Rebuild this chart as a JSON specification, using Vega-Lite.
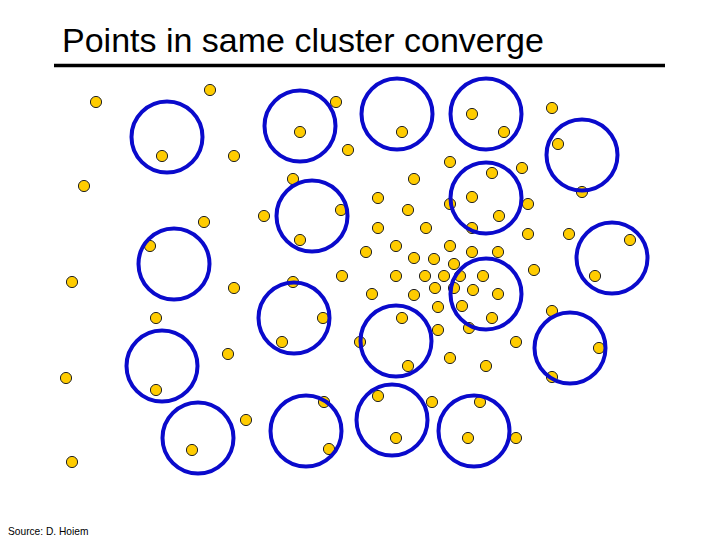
{
  "$schema": "https://vega.github.io/schema/vega-lite/v6.json",
  "autosize": {"type": "fit", "contains": "padding"},
  "width": 720,
  "height": 540,
  "padding": 0,
  "background": "white",
  "config": {"view": {"stroke": null}},
  "datasets": {
    "points": [
      {"x": 96, "y": 102}, {"x": 210, "y": 90}, {"x": 336, "y": 102}, {"x": 300, "y": 132},
      {"x": 162, "y": 156}, {"x": 234, "y": 156}, {"x": 348, "y": 150}, {"x": 293, "y": 179},
      {"x": 402, "y": 132}, {"x": 472, "y": 114}, {"x": 504, "y": 132}, {"x": 552, "y": 108},
      {"x": 558, "y": 144}, {"x": 450, "y": 162}, {"x": 492, "y": 173}, {"x": 522, "y": 168},
      {"x": 414, "y": 179}, {"x": 84, "y": 186}, {"x": 204, "y": 222}, {"x": 150, "y": 246},
      {"x": 264, "y": 216}, {"x": 341, "y": 210}, {"x": 300, "y": 240}, {"x": 72, "y": 282},
      {"x": 234, "y": 288}, {"x": 293, "y": 282}, {"x": 342, "y": 276}, {"x": 323, "y": 318},
      {"x": 282, "y": 342}, {"x": 156, "y": 318}, {"x": 228, "y": 354}, {"x": 360, "y": 342},
      {"x": 378, "y": 198}, {"x": 408, "y": 210}, {"x": 378, "y": 228}, {"x": 426, "y": 228},
      {"x": 396, "y": 246}, {"x": 366, "y": 252}, {"x": 414, "y": 258}, {"x": 434, "y": 259},
      {"x": 450, "y": 246}, {"x": 454, "y": 264}, {"x": 472, "y": 197}, {"x": 450, "y": 204},
      {"x": 499, "y": 216}, {"x": 528, "y": 204}, {"x": 472, "y": 228}, {"x": 528, "y": 234},
      {"x": 569, "y": 234}, {"x": 630, "y": 240}, {"x": 582, "y": 192}, {"x": 472, "y": 252},
      {"x": 498, "y": 252}, {"x": 534, "y": 270}, {"x": 396, "y": 276}, {"x": 425, "y": 276},
      {"x": 444, "y": 276}, {"x": 460, "y": 276}, {"x": 483, "y": 276}, {"x": 435, "y": 288},
      {"x": 454, "y": 288}, {"x": 473, "y": 290}, {"x": 498, "y": 294}, {"x": 372, "y": 294},
      {"x": 414, "y": 295}, {"x": 595, "y": 276}, {"x": 438, "y": 307}, {"x": 462, "y": 306},
      {"x": 492, "y": 318}, {"x": 402, "y": 318}, {"x": 552, "y": 311}, {"x": 438, "y": 330},
      {"x": 469, "y": 328}, {"x": 516, "y": 342}, {"x": 599, "y": 348}, {"x": 450, "y": 358},
      {"x": 66, "y": 378}, {"x": 156, "y": 390}, {"x": 246, "y": 420}, {"x": 192, "y": 450},
      {"x": 72, "y": 462}, {"x": 324, "y": 402}, {"x": 329, "y": 449}, {"x": 408, "y": 366},
      {"x": 486, "y": 366}, {"x": 552, "y": 377}, {"x": 378, "y": 396}, {"x": 432, "y": 402},
      {"x": 480, "y": 402}, {"x": 396, "y": 438}, {"x": 468, "y": 438}, {"x": 516, "y": 438}
    ],
    "circles": [
      {"x": 167, "y": 137}, {"x": 300, "y": 126}, {"x": 397, "y": 114}, {"x": 486, "y": 114},
      {"x": 582, "y": 155}, {"x": 312, "y": 216}, {"x": 486, "y": 198}, {"x": 174, "y": 264},
      {"x": 612, "y": 258}, {"x": 294, "y": 318}, {"x": 486, "y": 294}, {"x": 396, "y": 341},
      {"x": 570, "y": 348}, {"x": 162, "y": 366}, {"x": 198, "y": 438}, {"x": 306, "y": 431},
      {"x": 392, "y": 420}, {"x": 474, "y": 431}
    ],
    "labels": [
      {"x": 62, "y": 52, "text": "Points in same cluster converge", "kind": "title"},
      {"x": 8, "y": 535, "text": "Source: D. Hoiem", "kind": "source"}
    ],
    "underline": [{"x": 54, "x2": 665, "y": 65.5}]
  },
  "layer": [
    {
      "data": {"name": "underline"},
      "mark": {"type": "rule", "color": "black", "strokeWidth": 3.5},
      "encoding": {
        "x": {"field": "x", "type": "quantitative", "scale": {"domain": [0, 720], "nice": false, "zero": false}, "axis": null},
        "x2": {"field": "x2"},
        "y": {"field": "y", "type": "quantitative", "scale": {"domain": [540, 0], "nice": false, "zero": false}, "axis": null}
      }
    },
    {
      "data": {"name": "points"},
      "mark": {"type": "point", "shape": "circle", "filled": true, "size": 125, "fill": "#FFCC00", "stroke": "#222222", "strokeWidth": 1, "opacity": 1},
      "encoding": {
        "x": {"field": "x", "type": "quantitative", "scale": {"domain": [0, 720], "nice": false, "zero": false}, "axis": null},
        "y": {"field": "y", "type": "quantitative", "scale": {"domain": [540, 0], "nice": false, "zero": false}, "axis": null}
      }
    },
    {
      "data": {"name": "circles"},
      "mark": {"type": "point", "shape": "circle", "filled": false, "size": 5041, "stroke": "#0A0ACC", "strokeWidth": 4, "opacity": 1},
      "encoding": {
        "x": {"field": "x", "type": "quantitative", "scale": {"domain": [0, 720], "nice": false, "zero": false}, "axis": null},
        "y": {"field": "y", "type": "quantitative", "scale": {"domain": [540, 0], "nice": false, "zero": false}, "axis": null}
      }
    },
    {
      "data": {"name": "labels"},
      "transform": [{"filter": "datum.kind === 'title'"}],
      "mark": {"type": "text", "align": "left", "baseline": "alphabetic", "font": "Liberation Sans", "fontSize": 34, "color": "black"},
      "encoding": {
        "x": {"field": "x", "type": "quantitative", "scale": {"domain": [0, 720], "nice": false, "zero": false}, "axis": null},
        "y": {"field": "y", "type": "quantitative", "scale": {"domain": [540, 0], "nice": false, "zero": false}, "axis": null},
        "text": {"field": "text"}
      }
    },
    {
      "data": {"name": "labels"},
      "transform": [{"filter": "datum.kind === 'source'"}],
      "mark": {"type": "text", "align": "left", "baseline": "alphabetic", "font": "Liberation Sans", "fontSize": 10.2, "color": "black"},
      "encoding": {
        "x": {"field": "x", "type": "quantitative", "scale": {"domain": [0, 720], "nice": false, "zero": false}, "axis": null},
        "y": {"field": "y", "type": "quantitative", "scale": {"domain": [540, 0], "nice": false, "zero": false}, "axis": null},
        "text": {"field": "text"}
      }
    }
  ]
}
